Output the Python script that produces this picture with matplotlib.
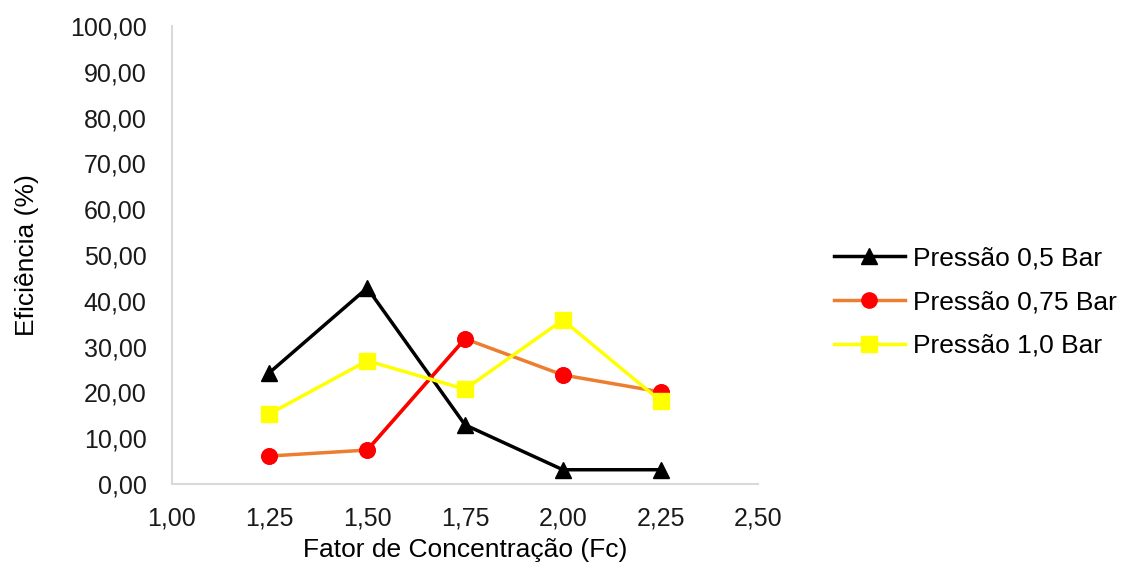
import matplotlib
matplotlib.use("Agg")
import matplotlib.pyplot as plt
from matplotlib.ticker import FuncFormatter, MultipleLocator

# Fator de concentração vs eficiência para três pressões
fc = [1.25, 1.50, 1.75, 2.00, 2.25]
ef_05 = [24.3, 42.8, 12.9, 3.1, 3.1]
ef_075 = [6.1, 7.4, 31.7, 23.8, 20.1]
ef_10 = [15.3, 26.9, 20.7, 35.8, 18.1]

plt.rcParams["font.family"] = ["Liberation Sans", "DejaVu Sans"]

fig = plt.figure(figsize=(11.44, 5.68), dpi=100)
ax = fig.add_axes([0.150, 0.148, 0.513, 0.806])

ax.plot(fc, ef_05, "-^", color="black", linewidth=2.5, markersize=11,
        label="Pressão 0,5 Bar")
ax.plot(fc, ef_075, "-o", color="#ED7D31", linewidth=2.5, markersize=11,
        markerfacecolor="red", markeredgecolor="red", label="Pressão 0,75 Bar")
# trecho 1,50 -> 1,75 em vermelho
ax.plot(fc[1:3], ef_075[1:3], "-", color="red", linewidth=2.5)
ax.plot(fc, ef_075, "o", color="red", markersize=11)
ax.plot(fc, ef_10, "-s", color="yellow", linewidth=2.5, markersize=11,
        label="Pressão 1,0 Bar")

ax.set_xlim(1.0, 2.5)
ax.set_ylim(0, 100)
ax.xaxis.set_major_locator(MultipleLocator(0.25))
ax.yaxis.set_major_locator(MultipleLocator(10))
comma = FuncFormatter(lambda v, pos: f"{v:.2f}".replace(".", ","))
ax.xaxis.set_major_formatter(comma)
ax.yaxis.set_major_formatter(comma)

for side in ("top", "right"):
    ax.spines[side].set_visible(False)
for side in ("left", "bottom"):
    ax.spines[side].set_color("#D9D9D9")
    ax.spines[side].set_linewidth(1.5)
ax.tick_params(axis="both", length=0, labelsize=18, colors="#1a1a1a")
ax.tick_params(axis="x", pad=16)
ax.tick_params(axis="y", pad=18)

ax.set_xlabel("Fator de Concentração (Fc)", fontsize=19, labelpad=6)
ax.set_ylabel("Eficiência (%)", fontsize=19, labelpad=22)

fig.legend(loc="center left", bbox_to_anchor=(0.708, 0.468), frameon=False,
           fontsize=19, handlelength=2.7, handletextpad=0.3,
           labelspacing=0.75)

fig.savefig("out.png", dpi=100)
